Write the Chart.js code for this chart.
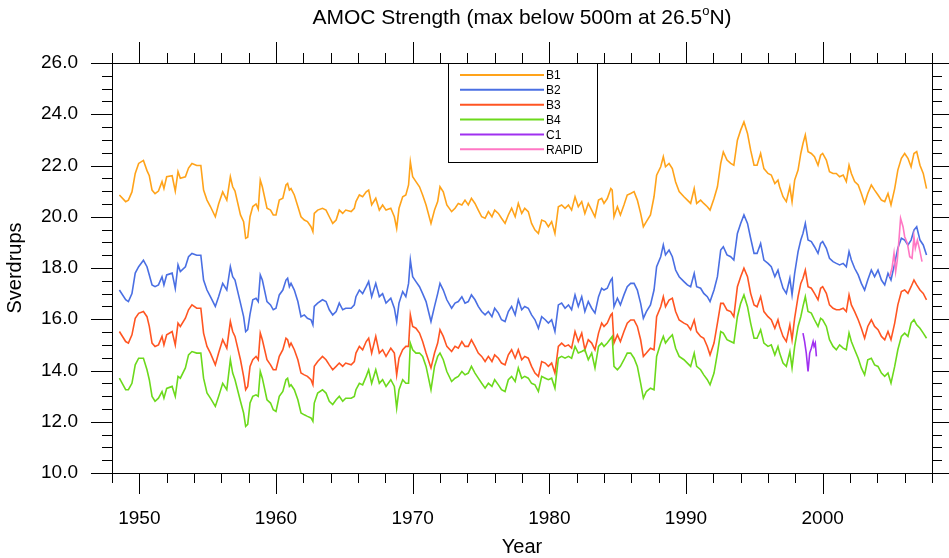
<!DOCTYPE html>
<html>
<head>
<meta charset="utf-8">
<title>AMOC Strength</title>
<script src="https://cdn.jsdelivr.net/npm/chart.js@4.4.1/dist/chart.umd.min.js"></script>
<style>
  html, body { margin: 0; padding: 0; background: #fff; }
  canvas { display: block; }
</style>
</head>
<body>
<canvas id="amocChart" width="949" height="558"></canvas>
<script>
// Sample times (decimal years) shared by the four model runs
const modelYears = [
  1948.54, 1949.0, 1949.2, 1949.46, 1949.7, 1949.95, 1950.3, 1950.56, 1950.73, 1950.93, 1951.15, 1951.4, 1951.66, 1951.8, 1952.0, 1952.4, 1952.63, 1952.83, 1953.0, 1953.37, 1953.6, 1953.85, 1954.2, 1954.5, 1954.7, 1954.95, 1955.2, 1955.56, 1955.8, 1956.1, 1956.4, 1956.66, 1956.83, 1957.0, 1957.4, 1957.63, 1957.78, 1957.93, 1958.1, 1958.3, 1958.54, 1958.7, 1958.85, 1959.0, 1959.34, 1959.6, 1959.8,
  1960.0, 1960.24, 1960.5, 1960.73, 1960.85, 1960.98, 1961.1, 1961.34, 1961.6, 1961.83, 1962.07, 1962.3, 1962.56, 1962.7, 1962.8, 1963.05, 1963.4, 1963.66, 1963.9, 1964.15, 1964.4, 1964.63, 1964.88, 1965.1, 1965.5, 1965.73, 1965.85, 1966.1, 1966.34, 1966.6, 1966.78, 1967.0, 1967.3, 1967.56, 1967.8, 1968.05, 1968.4, 1968.66, 1968.83, 1969.0, 1969.27, 1969.5, 1969.7, 1969.83, 1970.0, 1970.24, 1970.5, 1970.73, 1970.98, 1971.34, 1971.6, 1971.83,
  1972.0, 1972.24, 1972.5, 1972.85, 1973.1, 1973.34, 1973.6, 1973.83, 1974.07, 1974.3, 1974.56, 1974.8, 1975.05, 1975.3, 1975.54, 1975.8, 1976.0, 1976.27, 1976.5, 1976.76, 1977.0, 1977.24, 1977.5, 1977.73, 1977.98, 1978.2, 1978.46, 1978.7, 1978.95, 1979.2, 1979.44, 1979.7, 1979.93, 1980.17, 1980.41, 1980.66, 1980.9, 1981.15, 1981.4, 1981.63, 1981.88, 1982.12, 1982.37, 1982.6, 1982.85, 1983.1, 1983.34, 1983.6, 1983.83,
  1984.0, 1984.24, 1984.5, 1984.6, 1984.73, 1984.98, 1985.2, 1985.46, 1985.7, 1985.95, 1986.2, 1986.44, 1986.68, 1986.88, 1987.1, 1987.4, 1987.66, 1987.85, 1988.15, 1988.34, 1988.5, 1988.76, 1989.0, 1989.24, 1989.5, 1989.85, 1990.1, 1990.34, 1990.6, 1990.78, 1991.07, 1991.3, 1991.56, 1991.76, 1992.05, 1992.3, 1992.54, 1992.73, 1993.0, 1993.27, 1993.5, 1993.76, 1994.0, 1994.24, 1994.5, 1994.73, 1994.98, 1995.2, 1995.46, 1995.7,
  1996.0, 1996.24, 1996.5, 1996.73, 1996.85, 1997.1, 1997.34, 1997.6, 1997.76, 1997.95, 1998.2, 1998.4, 1998.56, 1998.73, 1998.93, 1999.17, 1999.4, 1999.66, 1999.85, 2000.0, 2000.27, 2000.5, 2000.76, 2001.0, 2001.24, 2001.5, 2001.73, 2001.93, 2002.1, 2002.34, 2002.6, 2002.83, 2003.07, 2003.3, 2003.56, 2003.8, 2004.05, 2004.3, 2004.54, 2004.78, 2005.0, 2005.27, 2005.5, 2005.76, 2006.0, 2006.24, 2006.47, 2006.68, 2006.88, 2007.12, 2007.36, 2007.6,
];

const b1Values = [
  20.85, 20.59, 20.65, 20.97, 21.69, 22.08, 22.2, 21.8, 21.6, 21.04, 20.9, 21.0, 21.37, 21.1, 21.56, 21.6, 21.0, 21.76, 21.5, 21.56, 21.9, 22.08, 22.0, 22.0, 21.04, 20.65, 20.4, 20.0, 20.5, 20.97, 20.65, 21.56, 21.17, 21.0, 20.07, 19.81, 19.16, 19.2, 20.0, 20.4, 20.5, 20.3, 21.43, 21.17, 20.33, 20.26, 20.07,
  20.07, 20.65, 20.72, 21.24, 21.3, 21.04, 21.1, 20.85, 20.4, 20.0, 19.87, 19.81, 19.61, 19.42, 20.13, 20.26, 20.33, 20.26, 20.0, 19.74, 19.87, 20.26, 20.13, 20.26, 20.2, 20.33, 20.59, 20.85, 20.78, 20.97, 21.04, 20.46, 20.72, 20.26, 20.46, 20.26, 20.33, 20.0, 19.55, 20.33, 20.78, 20.85, 21.24, 22.15, 21.56, 21.37, 21.17, 20.85, 20.46, 19.74, 20.26, 20.59,
  21.17, 20.97, 20.46, 20.2, 20.33, 20.52, 20.46, 20.65, 20.46, 20.72, 20.52, 20.26, 20.0, 19.94, 20.2, 20.0, 20.26, 20.13, 19.94, 19.74, 20.07, 20.33, 20.0, 20.52, 20.13, 20.33, 20.2, 19.74, 19.48, 19.35, 19.87, 19.81, 19.61, 19.81, 19.35, 20.39, 20.46, 20.33, 20.46, 20.26, 20.78, 20.39, 20.59, 20.13, 20.52, 20.26, 20.0, 20.65, 20.72,
  20.52, 20.71, 21.1, 21.04, 20.0, 20.39, 20.07, 20.46, 20.85, 20.91, 20.98, 20.65, 20.13, 19.61, 19.81, 20.07, 20.78, 21.62, 21.95, 22.34, 21.95, 22.08, 21.88, 21.36, 20.98, 20.78, 20.65, 20.52, 21.1, 20.52, 20.65, 20.52, 20.39, 20.26, 20.71, 21.17, 22.08, 22.53, 22.21, 22.08, 22.01, 22.99, 23.38, 23.7, 23.25, 22.6, 22.01, 22.01, 22.47, 21.88,
  21.69, 21.63, 21.3, 21.43, 21.17, 20.78, 20.59, 21.17, 20.59, 21.43, 21.82, 22.47, 22.86, 23.19, 22.54, 22.47, 22.34, 22.01, 22.4, 22.47, 22.21, 21.76, 21.69, 21.69, 21.56, 21.63, 21.37, 22.01, 21.69, 21.37, 21.24, 20.91, 20.52, 20.91, 21.24, 21.04, 20.85, 20.65, 20.59, 20.91, 20.46, 21.1, 21.82, 22.28, 22.47, 22.28, 21.95, 22.47, 22.54, 22.01, 21.69, 21.1,
];

const b2Values = [
  17.14, 16.76, 16.69, 17.0, 17.8, 18.05, 18.3, 18.05, 17.73, 17.34, 17.27, 17.34, 17.66, 17.34, 17.73, 17.8, 17.2, 18.12, 17.86, 18.05, 18.44, 18.57, 18.5, 18.5, 17.53, 17.14, 16.88, 16.5, 16.88, 17.4, 17.14, 18.05, 17.66, 17.53, 16.63, 16.1, 15.52, 15.6, 16.2, 16.76, 16.82, 16.69, 17.73, 17.53, 16.69, 16.56, 16.37,
  16.43, 16.95, 17.14, 17.53, 17.6, 17.27, 17.4, 17.14, 16.69, 16.1, 16.17, 16.04, 15.98, 15.78, 16.5, 16.63, 16.76, 16.69, 16.37, 16.17, 16.3, 16.63, 16.37, 16.43, 16.43, 16.56, 16.88, 17.14, 17.0, 17.27, 17.47, 16.88, 17.4, 16.88, 17.0, 16.63, 16.82, 16.43, 15.91, 16.63, 17.08, 16.88, 17.4, 18.31, 17.66, 17.47, 17.27, 17.0, 16.69, 15.91, 16.5, 17.0,
  17.4, 17.14, 16.76, 16.43, 16.63, 16.69, 16.88, 16.63, 16.69, 16.95, 16.76, 16.5, 16.3, 16.17, 16.3, 16.1, 16.43, 16.24, 15.98, 15.91, 16.3, 16.5, 16.17, 16.76, 16.37, 16.5, 16.43, 16.17, 15.98, 15.65, 16.1, 15.98, 15.85, 15.98, 15.52, 16.56, 16.63, 16.43, 16.56, 16.37, 16.95, 16.5, 16.88, 16.3, 16.69, 16.43, 16.24, 16.88, 17.21,
  17.14, 17.21, 17.53, 17.6, 16.49, 16.82, 16.56, 16.95, 17.27, 17.4, 17.4, 17.14, 16.62, 16.04, 16.3, 16.56, 17.14, 18.05, 18.44, 18.9, 18.51, 18.7, 18.44, 17.92, 17.66, 17.47, 17.34, 17.27, 17.79, 17.27, 17.21, 17.01, 16.88, 16.69, 17.14, 17.66, 18.7, 18.83, 18.51, 18.44, 18.31, 19.35, 19.74, 20.07, 19.74, 19.16, 18.57, 18.57, 18.96, 18.31,
  18.18, 18.05, 17.66, 17.92, 17.66, 17.21, 17.01, 17.6, 16.95, 17.79, 18.64, 19.09, 19.35, 19.74, 19.09, 19.03, 18.83, 18.57, 18.96, 19.03, 18.77, 18.38, 18.25, 18.18, 18.12, 18.18, 18.05, 18.64, 18.31, 17.99, 17.73, 17.4, 17.14, 17.53, 17.92, 17.66, 17.92, 17.53, 17.34, 17.79, 17.53, 18.18, 18.77, 19.16, 19.09, 18.9, 19.09, 19.48, 19.61, 19.09, 18.9, 18.51,
];

const b3Values = [
  15.52, 15.13, 15.07, 15.39, 16.04, 16.23, 16.3, 16.1, 15.72, 15.07, 14.94, 15.0, 15.33, 15.0, 15.39, 15.52, 15.0, 15.85, 15.72, 16.04, 16.37, 16.56, 16.43, 16.43, 15.46, 14.94, 14.68, 14.22, 14.68, 15.2, 14.87, 15.91, 15.52, 15.33, 14.42, 13.77, 13.25, 13.38, 14.16, 14.42, 14.55, 14.42, 15.46, 15.2, 14.42, 14.22, 14.03,
  14.03, 14.55, 14.81, 15.26, 15.2, 14.94, 15.07, 14.81, 14.42, 13.9, 13.83, 13.77, 13.64, 13.45, 14.16, 14.35, 14.55, 14.42, 14.22, 14.03, 14.16, 14.29, 14.16, 14.29, 14.22, 14.35, 14.68, 14.94, 14.81, 15.13, 15.26, 14.68, 15.33, 14.68, 14.81, 14.55, 14.87, 14.68, 13.83, 14.48, 14.81, 14.94, 14.94, 16.17, 15.72, 15.65, 15.46, 15.13, 14.68, 14.1, 14.68, 15.07,
  15.59, 15.33, 14.94, 14.74, 14.94, 14.87, 15.13, 14.94, 14.94, 15.2, 14.94, 14.68, 14.55, 14.35, 14.55, 14.35, 14.61, 14.48, 14.29, 14.22, 14.61, 14.81, 14.48, 14.81, 14.42, 14.55, 14.48, 14.16, 13.9, 13.77, 14.35, 14.29, 14.16, 14.29, 13.9, 14.94, 15.07, 14.94, 15.0, 14.87, 15.52, 15.13, 15.46, 14.81, 15.2, 15.07, 14.81, 15.46, 15.85,
  15.72, 15.85, 16.17, 16.23, 15.07, 15.39, 15.13, 15.52, 15.85, 15.97, 15.97, 15.72, 15.2, 14.55, 14.68, 14.87, 14.81, 16.1, 16.49, 16.88, 16.49, 16.75, 16.82, 16.3, 15.97, 15.85, 15.78, 15.59, 15.97, 15.52, 15.33, 15.26, 14.94, 14.61, 15.07, 15.85, 16.62, 16.62, 16.36, 16.3, 16.1, 17.27, 17.66, 17.99, 17.66, 17.01, 16.56, 16.49, 16.88, 16.3,
  16.1, 15.98, 15.65, 15.98, 15.72, 15.33, 15.13, 15.78, 15.2, 16.04, 16.88, 17.4, 17.6, 17.92, 17.27, 17.21, 17.01, 16.76, 17.21, 17.27, 17.01, 16.56, 16.43, 16.37, 16.37, 16.43, 16.3, 16.95, 16.56, 16.3, 15.98, 15.65, 15.26, 15.72, 15.98, 15.72, 15.59, 15.33, 15.2, 15.52, 15.2, 15.85, 16.56, 17.08, 17.14, 17.01, 17.27, 17.53, 17.34, 17.14, 17.01, 16.76,
];

const b4Values = [
  13.7, 13.25, 13.25, 13.5, 14.22, 14.48, 14.48, 14.03, 13.64, 12.99, 12.8, 12.92, 13.18, 12.92, 13.3, 13.38, 12.99, 13.77, 13.7, 14.1, 14.61, 14.74, 14.68, 14.68, 13.7, 13.12, 12.92, 12.6, 12.99, 13.5, 13.25, 14.42, 13.9, 13.64, 12.8, 12.34, 11.82, 11.9, 12.73, 12.99, 13.05, 12.99, 13.96, 13.7, 12.86, 12.73, 12.47,
  12.4, 12.99, 13.18, 13.64, 13.7, 13.38, 13.44, 13.25, 12.86, 12.34, 12.27, 12.21, 12.15, 12.02, 12.73, 13.12, 13.25, 13.12, 12.8, 12.67, 12.86, 12.99, 12.8, 12.92, 12.92, 12.99, 13.25, 13.5, 13.44, 13.77, 14.03, 13.5, 14.03, 13.5, 13.64, 13.38, 13.64, 13.38, 12.53, 13.25, 13.64, 13.5, 13.5, 15.07, 14.81, 14.68, 14.68, 14.55, 14.16, 13.25, 14.16, 14.55,
  14.68, 14.42, 13.96, 13.57, 13.7, 13.77, 13.96, 13.83, 13.9, 14.16, 13.9, 13.7, 13.5, 13.31, 13.5, 13.38, 13.64, 13.44, 13.25, 13.18, 13.64, 13.77, 13.57, 14.1, 13.7, 13.77, 13.7, 13.5, 13.44, 13.18, 13.77, 13.7, 13.64, 13.7, 13.31, 14.48, 14.55, 14.48, 14.55, 14.48, 14.94, 14.68, 14.74, 14.81, 14.42, 14.68, 14.1, 14.94, 15.07,
  14.94, 15.07, 15.26, 15.33, 14.16, 14.03, 14.16, 14.42, 14.68, 14.68, 14.48, 14.16, 13.51, 12.92, 13.18, 13.31, 13.25, 14.55, 15.07, 15.33, 15.07, 15.26, 15.39, 14.87, 14.55, 14.42, 14.29, 14.16, 14.68, 14.16, 14.03, 13.83, 13.64, 13.44, 13.9, 14.68, 15.52, 15.46, 15.2, 15.13, 15.07, 16.1, 16.62, 16.95, 16.49, 15.85, 15.26, 15.26, 15.59, 15.07,
  14.94, 15.0, 14.61, 14.94, 14.68, 14.29, 14.16, 14.74, 14.1, 14.94, 15.72, 16.1, 16.5, 16.88, 16.3, 16.24, 15.98, 15.72, 16.04, 15.98, 15.72, 15.2, 14.94, 14.81, 15.0, 14.87, 14.81, 15.46, 15.13, 14.81, 14.48, 14.1, 13.83, 14.42, 14.48, 14.22, 14.16, 13.9, 13.77, 13.9, 13.51, 14.16, 14.81, 15.33, 15.46, 15.33, 15.85, 15.98, 15.78, 15.65, 15.46, 15.26,
];

// Short C1 run and RAPID observations
const c1Years = [1998.56, 1998.68, 1998.8, 1998.93, 1999.05, 1999.17, 1999.3, 1999.37, 1999.46, 1999.54];
const c1Values = [15.46, 15.13, 14.68, 13.96, 14.68, 14.87, 15.13, 14.94, 15.07, 14.55];

const rapidYears = [2004.9, 2005.07, 2005.22, 2005.34, 2005.46, 2005.6, 2005.7, 2005.88, 2006.0, 2006.2, 2006.37, 2006.54, 2006.68, 2006.78, 2006.93, 2007.1, 2007.27];
const rapidValues = [17.66, 17.99, 18.57, 17.86, 18.31, 19.22, 19.94, 19.61, 19.22, 18.96, 18.44, 18.38, 19.22, 18.77, 19.09, 18.7, 18.25];

// Axis ticks
const xMajorTicks = [1950, 1960, 1970, 1980, 1990, 2000];
const yMajorTicks = [10, 12, 14, 16, 18, 20, 22, 24, 26];

function toPoints(xs, ys) {
  return xs.map((x, i) => ({ x: x, y: ys[i] }));
}

const FONT = "'Liberation Sans', Arial, Helvetica, sans-serif";

// Draws the NCL-like frame, outward ticks, labels, title and legend
const nclFrame = {
  id: "nclFrame",
  afterDraw(chart) {
    const { ctx, chartArea: a } = chart;
    const xs = chart.scales.x;
    const ys = chart.scales.y;
    const snap = (v) => Math.round(v) + 0.5;

    ctx.save();
    ctx.strokeStyle = "#000";
    ctx.lineWidth = 1;

    // frame
    ctx.strokeRect(snap(a.left), snap(a.top), Math.round(a.right - a.left), Math.round(a.bottom - a.top));

    // x ticks, every 2 years, major every 10
    ctx.beginPath();
    for (let yr = 1948; yr <= 2008; yr += 2) {
      const px = snap(xs.getPixelForValue(yr));
      const len = yr % 10 === 0 ? 21 : 10;
      ctx.moveTo(px, a.bottom);
      ctx.lineTo(px, a.bottom + len);
      ctx.moveTo(px, a.top);
      ctx.lineTo(px, a.top - len);
    }
    // y ticks, every 0.5, major every 2
    for (let v = 10; v <= 26.001; v += 0.5) {
      const py = snap(ys.getPixelForValue(v));
      const len = Math.abs(v % 2) < 0.001 ? 21 : 10;
      ctx.moveTo(a.left, py);
      ctx.lineTo(a.left - len, py);
      ctx.moveTo(a.right, py);
      ctx.lineTo(a.right + len, py);
    }
    ctx.stroke();

    // tick labels
    ctx.fillStyle = "#000";
    ctx.font = "19px " + FONT;
    ctx.textAlign = "center";
    ctx.textBaseline = "middle";
    xMajorTicks.forEach((yr) => {
      ctx.fillText(String(yr), xs.getPixelForValue(yr), 519);
    });
    ctx.textAlign = "right";
    yMajorTicks.forEach((v) => {
      ctx.fillText(v.toFixed(1), 78, ys.getPixelForValue(v));
    });

    // axis titles
    ctx.font = "20px " + FONT;
    ctx.textAlign = "center";
    ctx.fillText("Year", (a.left + a.right) / 2, 547);
    ctx.save();
    ctx.translate(15, (a.top + a.bottom) / 2);
    ctx.rotate(-Math.PI / 2);
    ctx.fillText("Sverdrups", 0, 0);
    ctx.restore();

    // title with superscript o
    const t1 = "AMOC Strength (max below 500m at 26.5";
    const t2 = "o";
    const t3 = "N)";
    ctx.font = "21px " + FONT;
    const w1 = ctx.measureText(t1).width;
    const w3 = ctx.measureText(t3).width;
    ctx.font = "13px " + FONT;
    const w2 = ctx.measureText(t2).width;
    let tx = (a.left + a.right) / 2 - (w1 + w2 + w3) / 2;
    ctx.textAlign = "left";
    ctx.font = "21px " + FONT;
    ctx.fillText(t1, tx, 18);
    ctx.font = "13px " + FONT;
    ctx.fillText(t2, tx + w1, 11);
    ctx.font = "21px " + FONT;
    ctx.fillText(t3, tx + w1 + w2, 18);

    // legend box
    const box = { left: 448, top: a.top, right: 597, bottom: 162 };
    ctx.fillStyle = "#fff";
    ctx.fillRect(box.left, box.top, box.right - box.left, box.bottom - box.top);
    ctx.lineWidth = 1;
    ctx.strokeRect(snap(box.left), snap(box.top), box.right - box.left, box.bottom - box.top);
    ctx.font = "12px " + FONT;
    ctx.textBaseline = "middle";
    chart.data.datasets.forEach((ds, i) => {
      const ry = 75 + i * 14.85;
      ctx.strokeStyle = ds.borderColor;
      ctx.lineWidth = 2;
      ctx.beginPath();
      ctx.moveTo(460, ry);
      ctx.lineTo(544, ry);
      ctx.stroke();
      ctx.fillStyle = "#000";
      ctx.fillText(ds.label, 546, ry + 1);
    });

    ctx.restore();
  },
};

function lineSet(label, data, color, order) {
  return {
    label: label,
    data: data,
    borderColor: color,
    backgroundColor: color,
    borderWidth: 1.6,
    pointRadius: 0,
    tension: 0,
    fill: false,
    order: order,
  };
}

const ctx = document.getElementById("amocChart").getContext("2d");
const amocChart = new Chart(ctx, {
  type: "line",
  data: {
    datasets: [
      lineSet("B1", toPoints(modelYears, b1Values), "#ffa31a", 5),
      lineSet("B2", toPoints(modelYears, b2Values), "#4a6fe3", 4),
      lineSet("B3", toPoints(modelYears, b3Values), "#ff5522", 3),
      lineSet("B4", toPoints(modelYears, b4Values), "#6cd91c", 2),
      lineSet("C1", toPoints(c1Years, c1Values), "#a030f0", 1),
      lineSet("RAPID", toPoints(rapidYears, rapidValues), "#ff77c4", 0),
    ],
  },
  options: {
    responsive: false,
    animation: false,
    events: [],
    layout: { padding: { left: 112, right: 17, top: 63, bottom: 85 } },
    scales: {
      x: { type: "linear", min: 1948, max: 2008, display: false },
      y: { type: "linear", min: 10, max: 26, display: false },
    },
    plugins: {
      legend: { display: false },
      tooltip: { enabled: false },
      title: { display: false },
    },
  },
  plugins: [nclFrame],
});
</script>
</body>
</html>
